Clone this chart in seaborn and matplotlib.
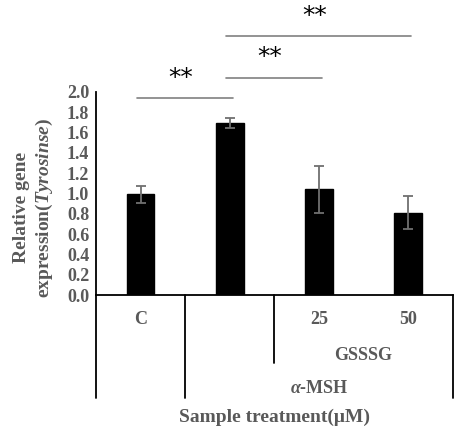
import pandas as pd
import seaborn as sns
import numpy as np
import matplotlib.pyplot as plt

# data
groups = ['C', 'MSH', '25', '50']
tick_labels = ['C', '', '25', '50']
expression = [0.99, 1.69, 1.04, 0.81]
errors = [0.08, 0.05, 0.23, 0.16]
# significance brackets: (from, to, height)
brackets = [(0, 1, 1.94), (1, 2, 2.14), (1, 3, 2.55)]

sns.set_style('white')
plt.rcParams['font.family'] = ['Liberation Serif', 'DejaVu Serif']
plt.rcParams['mathtext.fontset'] = 'custom'
plt.rcParams['mathtext.it'] = 'Liberation Serif:italic:bold'
plt.rcParams['mathtext.rm'] = 'Liberation Serif:bold'

grey = '#595959'
df = pd.DataFrame({'group': groups, 'value': expression})

fig = plt.figure(figsize=(4.62, 4.26), dpi=100)
ax = fig.add_axes([0.208, 0.3075, 0.772, 0.477])

sns.barplot(data=df, x='group', y='value', color='black', width=0.31,
            edgecolor='black', saturation=1, ax=ax)
ax.errorbar(range(len(groups)), expression, yerr=errors, fmt='none',
            ecolor='#707070', elinewidth=1.3, capsize=3.5, capthick=1.3)

ax.set_xlim(-0.5, 3.5)
ax.set_ylim(0, 2.0)
ax.set_yticks(np.arange(0, 2.01, 0.2))
ax.set_yticklabels([f'{v:.1f}' for v in np.arange(0, 2.01, 0.2)],
                   fontsize=13, fontweight='bold', color=grey)
ax.tick_params(axis='y', length=0, pad=5)
ax.set_xticks([])
ax.set_xlabel('')
ax.set_ylabel('Relative gene\nexpression($\\it{Tyrosinse}$)', fontsize=14,
              fontweight='bold', color=grey, linespacing=1.25)
ax.yaxis.set_label_coords(-0.115, 0.43)
for s in ['top', 'right']:
    ax.spines[s].set_visible(False)
for s in ['left', 'bottom']:
    ax.spines[s].set_color('black')
    ax.spines[s].set_linewidth(1.3)

# category table below the axis
tr = ax.get_xaxis_transform()
for x, y0 in [(-0.5, -0.507), (0.5, -0.507), (1.5, -0.335), (3.5, -0.507)]:
    ax.plot([x, x], [0, y0], transform=tr, color='black', lw=1.3, clip_on=False)
for i, lab in enumerate(tick_labels):
    ax.text(i, -0.123, lab, transform=tr, ha='center', va='center',
            fontsize=13, fontweight='bold', color=grey)
ax.text(2.5, -0.296, 'GSSSG', transform=tr, ha='center', va='center',
        fontsize=13, fontweight='bold', color=grey)
ax.text(2.0, -0.458, '$\\it{\\alpha}$-MSH', transform=tr, ha='center', va='center',
        fontsize=13, fontweight='bold', color=grey)
ax.text(1.5, -0.60, 'Sample treatment(\u03bcM)', transform=tr, ha='center',
        va='center', fontsize=14, fontweight='bold', color=grey)

# significance marks
for a, b, h in brackets:
    ax.plot([a - 0.04, b + 0.03], [h, h], color='#808080', lw=1.2, clip_on=False)
    ax.text((a + b) / 2 - 0.05, h + 0.2, '**', ha='center', va='center',
            fontsize=18, color='black', family='DejaVu Sans')

fig.savefig('out.png', dpi=100)
